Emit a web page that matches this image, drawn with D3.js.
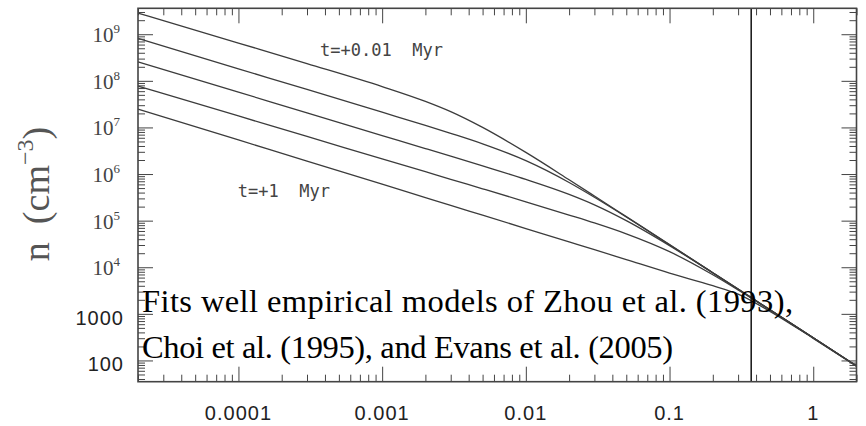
<!DOCTYPE html>
<html>
<head>
<meta charset="utf-8">
<script src="https://cdn.jsdelivr.net/npm/d3@7"></script>
<style>
  html, body { margin: 0; padding: 0; background: #fff; }
  svg { display: block; }
</style>
</head>
<body>
<svg id="chart" width="866" height="426"></svg>
<script>
// Radius grid (pc) shared by every density profile
const radius = [2e-5, 1e-4, 3e-4, 1e-3, 2e-3, 3e-3, 5e-3, 0.01, 0.02, 0.03, 0.05, 0.1, 0.2, 0.3, 0.5, 1, 2];

// Number density n (cm^-3) at each radius, one profile per time after collapse
const density_t001 = [2.84e9, 6.47e8, 2.35e8, 7.54e7, 3.62e7, 2.18e7, 1.00e7, 2.91e6, 7.55e5, 3.38e5, 1.22e5, 3.06e4, 7.64e3, 3.40e3, 1.22e3, 306, 76.4];
const density_t003 = [8.10e8, 1.81e8, 6.52e7, 2.12e7, 1.11e7, 7.47e6, 4.44e6, 1.94e6, 6.60e5, 3.18e5, 1.20e5, 3.04e4, 7.64e3, 3.40e3, 1.22e3, 306, 76.4];
const density_t01  = [2.56e8, 5.72e7, 2.06e7, 6.71e6, 3.52e6, 2.41e6, 1.49e6, 7.64e5, 3.65e5, 2.18e5, 1.00e5, 2.91e4, 7.55e3, 3.38e3, 1.22e3, 306, 76.4];
const density_t03  = [7.73e7, 1.76e7, 6.40e6, 2.12e6, 1.12e6, 7.70e5, 4.82e5, 2.54e5, 1.32e5, 8.92e4, 5.21e4, 2.16e4, 6.89e3, 3.25e3, 1.21e3, 305, 76.4];
const density_t1   = [2.48e7, 5.38e6, 1.90e6, 6.04e5, 3.13e5, 2.13e5, 1.31e5, 6.78e4, 3.51e4, 2.39e4, 1.46e4, 7.49e3, 4.02e3, 2.66e3, 1.13e3, 298, 75.7];
const profiles = [density_t001, density_t003, density_t01, density_t03, density_t1];

// Marked radius (vertical line)
const markerRadius = 0.37;

// Axis ticks and labels
const xTickValues = [1e-4, 1e-3, 0.01, 0.1, 1];
const xTickLabels = ["0.0001", "0.001", "0.01", "0.1", "1"];
const yTickValues = [1e9, 1e8, 1e7, 1e6, 1e5, 1e4, 1000, 100];
const yTickBase   = ["10", "10", "10", "10", "10", "10", "1000", "100"];
const yTickExp    = ["9", "8", "7", "6", "5", "4", "", ""];

// Text labels, anchored in data coordinates (left end of baseline)
const curveLabels = [
  { text: "t=+0.01  Myr", r: 3.7e-4, n: 3.4e8 },
  { text: "t=+1  Myr",    r: 9.9e-5, n: 3.2e5 }
];
const noteLines = [
  "Fits well empirical models of Zhou et al. (1993),",
  "Choi et al. (1995), and Evans et al. (2005)"
];

const svg = d3.select("#chart");
const plotLeft = 138, plotRight = 856.5, plotTop = 8.3, plotBottom = 381.7;

const x = d3.scaleLog().domain([2e-5, 2]).range([plotLeft, plotRight]);
const y = d3.scaleLog().domain([35, 3.6e9]).range([plotBottom, plotTop]);

function minorTicks(domain) {
  const out = [];
  const lo = Math.floor(Math.log10(domain[0])), hi = Math.ceil(Math.log10(domain[1]));
  for (let k = lo; k <= hi; k++) {
    for (let m = 2; m <= 9; m++) {
      const v = m * Math.pow(10, k);
      if (v >= domain[0] && v <= domain[1]) out.push(v);
    }
  }
  return out;
}

const lineStroke = "#3c3c3c";

// Density profiles
const line = d3.line()
  .x((d, i) => x(radius[i]))
  .y(d => y(d))
  .curve(d3.curveMonotoneX);

svg.append("g")
  .selectAll("path")
  .data(profiles)
  .join("path")
  .attr("d", d => line(d))
  .attr("fill", "none")
  .attr("stroke", lineStroke)
  .attr("stroke-width", 1.3);

// Vertical marker line
svg.append("line")
  .attr("x1", x(markerRadius)).attr("x2", x(markerRadius))
  .attr("y1", plotTop).attr("y2", plotBottom)
  .attr("stroke", "#111")
  .attr("stroke-width", 1.5);

// Ticks on all four sides, pointing inward
const axisColor = "#444";
function drawAxis(axisFn, scale, values, size, transform) {
  const g = svg.append("g")
    .attr("transform", transform)
    .call(axisFn(scale).tickValues(values).tickSizeInner(size).tickSizeOuter(0).tickFormat(""));
  g.select(".domain").remove();
  g.selectAll(".tick line").attr("stroke", axisColor).attr("stroke-width", 1);
}
const xMinor = minorTicks(x.domain());
const yMinor = minorTicks(y.domain());
drawAxis(d3.axisBottom, x, xTickValues, -15, `translate(0,${plotBottom})`);
drawAxis(d3.axisBottom, x, xMinor, -7, `translate(0,${plotBottom})`);
drawAxis(d3.axisTop, x, xTickValues, -15, `translate(0,${plotTop})`);
drawAxis(d3.axisTop, x, xMinor, -7, `translate(0,${plotTop})`);
drawAxis(d3.axisLeft, y, yTickValues, -15, `translate(${plotLeft},0)`);
drawAxis(d3.axisLeft, y, yMinor, -7, `translate(${plotLeft},0)`);
drawAxis(d3.axisRight, y, yTickValues, -15, `translate(${plotRight},0)`);
drawAxis(d3.axisRight, y, yMinor, -7, `translate(${plotRight},0)`);

// Frame
svg.append("rect")
  .attr("x", plotLeft).attr("y", plotTop)
  .attr("width", plotRight - plotLeft).attr("height", plotBottom - plotTop)
  .attr("fill", "none")
  .attr("stroke", axisColor)
  .attr("stroke-width", 1.6);

// X tick labels
svg.append("g")
  .selectAll("text")
  .data(xTickValues)
  .join("text")
  .attr("x", d => x(d))
  .attr("y", 420)
  .attr("text-anchor", "middle")
  .attr("font-family", "Liberation Sans, Arial, sans-serif")
  .attr("font-size", 20)
  .attr("letter-spacing", 1)
  .attr("fill", "#222")
  .text((d, i) => xTickLabels[i]);

// Y tick labels
const yLab = svg.append("g")
  .selectAll("text")
  .data(yTickValues)
  .join("text")
  .attr("x", (d, i) => yTickExp[i] ? 120 : 124)
  .attr("y", (d, i) => y(d) + (yTickExp[i] ? 8 : 11))
  .attr("text-anchor", "end")
  .attr("fill", (d, i) => yTickExp[i] ? "#444" : "#222")
  .attr("font-family", (d, i) => yTickExp[i] ? "Liberation Serif, Times New Roman, serif" : "Liberation Sans, Arial, sans-serif")
  .attr("font-size", (d, i) => yTickExp[i] ? 21 : 20)
  .attr("letter-spacing", (d, i) => yTickExp[i] ? 0 : 1);
yLab.append("tspan").text((d, i) => yTickBase[i]);
yLab.filter((d, i) => yTickExp[i] !== "")
  .append("tspan")
  .attr("font-size", 13)
  .attr("dy", -9)
  .text(d => yTickExp[yTickValues.indexOf(d)]);

// Y axis title: n (cm^-3)
const yTitle = svg.append("text")
  .attr("transform", "translate(49,194) rotate(-90)")
  .attr("text-anchor", "middle")
  .attr("font-family", "Liberation Serif, Times New Roman, serif")
  .attr("font-size", 38)
  .attr("fill", "#555");
yTitle.append("tspan").text("n");
yTitle.append("tspan").attr("dx", 18).text("(cm");
yTitle.append("tspan").attr("font-size", 24).attr("dy", -16).text("−3");
yTitle.append("tspan").attr("dy", 16).text(")");

// Curve labels
svg.append("g")
  .selectAll("text")
  .data(curveLabels)
  .join("text")
  .attr("x", d => x(d.r))
  .attr("y", d => y(d.n))
  .attr("font-family", "DejaVu Sans Mono, monospace")
  .attr("font-size", 17)
  .attr("fill", "#444")
  .attr("xml:space", "preserve")
  .style("white-space", "pre")
  .text(d => d.text);

// Note text
svg.append("g")
  .selectAll("text")
  .data(noteLines)
  .join("text")
  .attr("x", 142)
  .attr("y", (d, i) => 311.5 + i * 46.8)
  .attr("font-family", "Liberation Serif, Times New Roman, serif")
  .attr("font-size", 32.5)
  .attr("fill", "#000")
  .attr("textLength", (d, i) => i === 0 ? 651 : 531)
  .attr("lengthAdjust", "spacing")
  .text(d => d);
</script>
</body>
</html>
